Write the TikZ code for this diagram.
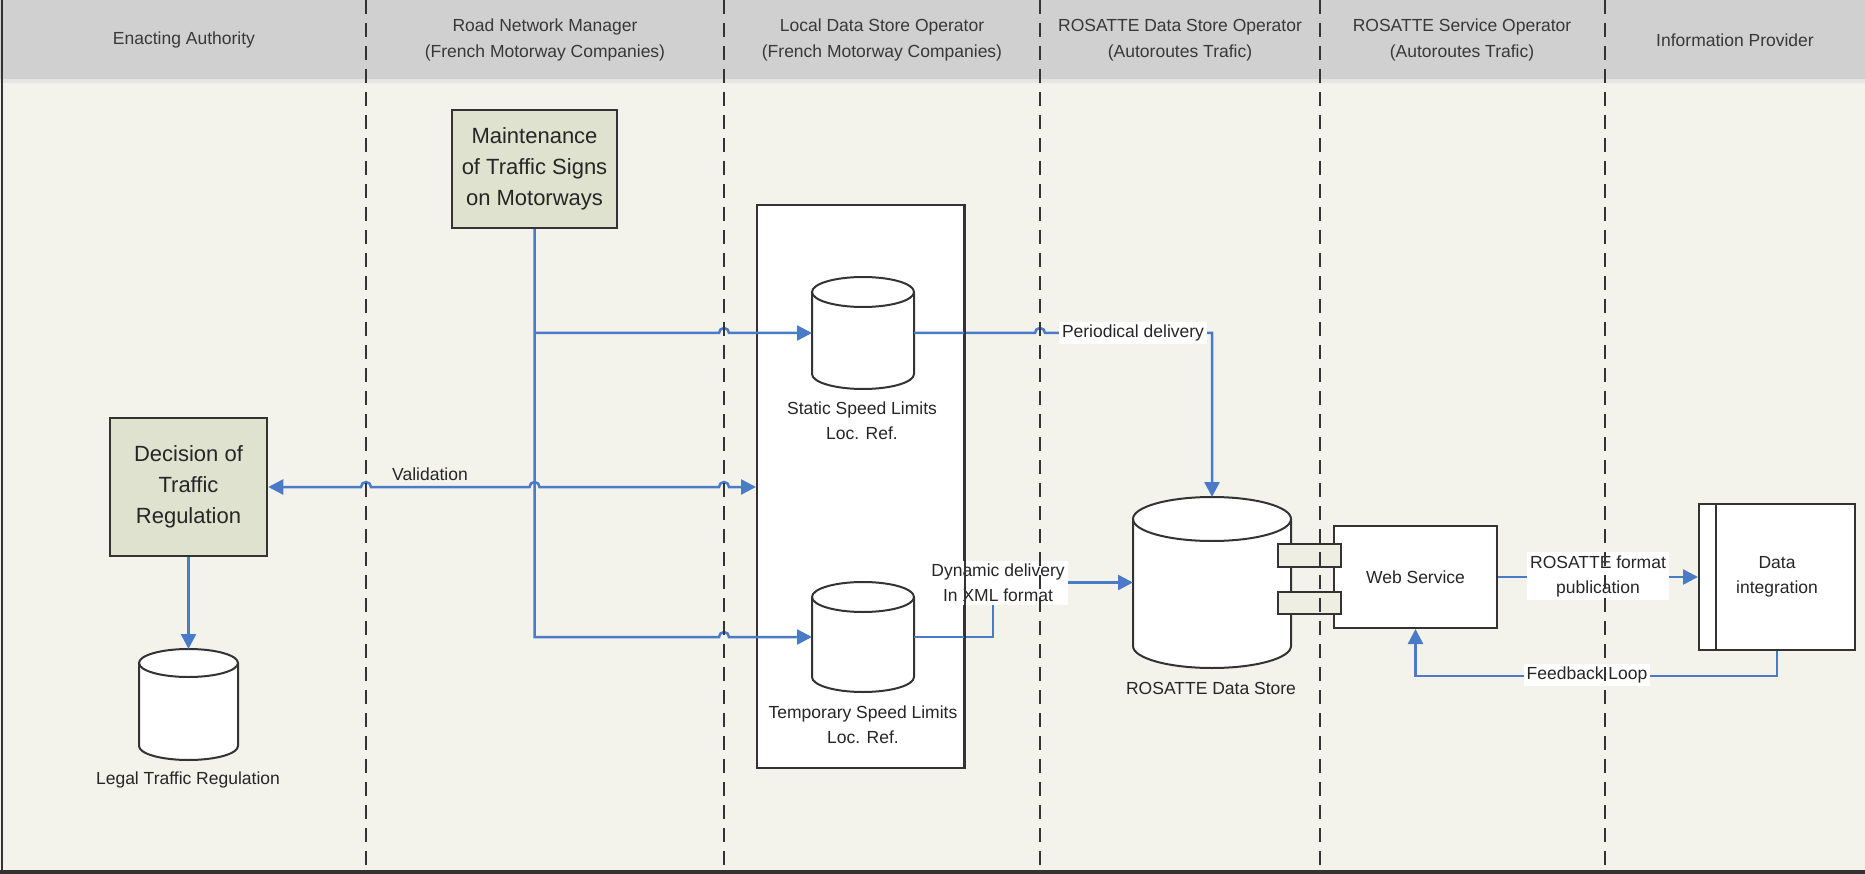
\documentclass[tikz,border=0pt]{standalone}
\usepackage{fontspec}
\setmainfont{Liberation Sans}
\usetikzlibrary{arrows.meta}
\definecolor{hdr}{HTML}{D0D0D0}
\definecolor{bodybg}{HTML}{F3F3EC}
\definecolor{boxgreen}{HTML}{DFE2CF}
\definecolor{flowblue}{HTML}{4A7BC9}
\definecolor{linegray}{HTML}{333333}
\definecolor{portfill}{HTML}{EEEEE2}
\newcommand\drawcyl[6]{% name, cx, top, bottom, rx, ry
  \node[cylbox, minimum width={2*#5}, minimum height={#4-#3}] (#1) at (#2,{-(#3+#4)/2}) {};
  \draw[linegray, line width=2pt, fill=white]
    ({#2-#5},{-(#3)-(#6)}) -- ({#2-#5},{-(#4)+(#6)})
    arc[start angle=180, end angle=360, x radius=#5pt, y radius=#6pt]
    -- ({#2+#5},{-(#3)-(#6)})
    arc[start angle=0, end angle=180, x radius=#5pt, y radius=#6pt] -- cycle;
  \draw[linegray, line width=2pt] ({#2+#5},{-(#3)-(#6)})
    arc[start angle=0, end angle=-180, x radius=#5pt, y radius=#6pt];
}
\begin{document}
\begin{tikzpicture}[x=1pt,y=1pt,
  lane/.style={draw=linegray, line width=2pt, dash pattern=on 14pt off 9pt},
  hdrtext/.style={align=center, text=black!78, font=\fontsize{17.5}{26}\selectfont},
  lbl/.style={align=center, inner sep=2pt, text=black!85, font=\fontsize{17.5}{25}\selectfont},
  wlbl/.style={lbl, fill=white, inner sep=3pt},
  greenbox/.style={draw=linegray, line width=2.5pt, fill=boxgreen, align=center, text=black!85, font=\fontsize{22}{31}\selectfont, inner sep=0pt},
  whitebox/.style={draw=linegray, line width=2pt, fill=white, align=center, inner sep=0pt, text=black!85, font=\fontsize{17.5}{25}\selectfont},
  portbox/.style={draw=linegray, line width=2pt, fill=portfill, inner sep=0pt},
  cylbox/.style={inner sep=0pt, outer sep=0pt},
  tipA/.tip={Triangle[length=15pt,width=15pt]},
  flow/.style={draw=flowblue, line width=2.5pt, -tipA},
  bothflow/.style={draw=flowblue, line width=2.5pt, tipA-tipA},
]
\useasboundingbox (0,0) rectangle (1865,-874);
% background
\fill[bodybg] (0,0) rectangle (1865,-874);
\fill[hdr] (0,0) rectangle (1865,-79);
\fill[hdr!55!white] (0,-79) rectangle (1865,-83);
\draw[linegray, line width=2.5pt] (2,0) -- (2,-872);
\draw[linegray, line width=4pt] (0,-872) -- (1865,-872);

% headers
\node[hdrtext] (h1) at (184,-40) {Enacting Authority};
\node[hdrtext] (h2) at (545,-40) {Road Network Manager\\(French Motorway Companies)};
\node[hdrtext] (h3) at (882,-40) {Local Data Store Operator\\(French Motorway Companies)};
\node[hdrtext] (h4) at (1180,-40) {ROSATTE Data Store Operator\\(Autoroutes Trafic)};
\node[hdrtext] (h5) at (1462,-40) {ROSATTE Service Operator\\(Autoroutes Trafic)};
\node[hdrtext] (h6) at (1735,-40) {Information Provider};

% boxes
\node[whitebox, minimum width=207pt, minimum height=563pt] (big) at (860.5,-486.5) {};
\node[greenbox, minimum width=165pt, minimum height=118pt] (maint) at (534.5,-169) {Maintenance\\of Traffic Signs\\on Motorways};
\node[greenbox, minimum width=157pt, minimum height=138pt] (dec) at (188.5,-487) {Decision of\\Traffic\\Regulation};

% cylinders
\drawcyl{static}{863}{277}{389}{51}{15}
\drawcyl{temp}{863}{582}{692}{51}{15}
\drawcyl{legal}{188.5}{649}{760}{49.5}{14}
\drawcyl{store}{1212}{497}{668}{79}{22}

\node[whitebox, minimum width=163pt, minimum height=102pt] (web) at (1415.5,-577) {Web Service};
\node[whitebox, minimum width=156pt, minimum height=146pt] (dataint) at (1777,-577) {Data\\integration};
\draw[linegray, line width=2pt] ([xshift=18pt]dataint.north west) -- ([xshift=18pt]dataint.south west);

\node[portbox, minimum width=63pt, minimum height=23pt] (port1) at (1309.5,-555.5) {};
\node[portbox, minimum width=63pt, minimum height=22pt] (port2) at (1309.5,-603) {};

% connectors
\coordinate (corner) at (maint.south |- temp.west);
\coordinate (jS) at (maint.south |- static.west);
\draw[flow] (maint.south) -- (corner) -- (719,-637) arc[start angle=180, end angle=0, radius=5pt] -- (temp.west);
\draw[flow] (jS) -- (719,-333) arc[start angle=180, end angle=0, radius=5pt] -- (static.west);
\draw[bothflow] (dec.east) -- (361,-487) arc[start angle=180, end angle=0, radius=5pt]
  -- (529.5,-487) arc[start angle=180, end angle=0, radius=5pt]
  -- (719,-487) arc[start angle=180, end angle=0, radius=5pt] -- (big.west |- dec.east);
\draw[flow] (static.east) -- (1035,-333) arc[start angle=180, end angle=0, radius=5pt] -- (store.north |- static.east) -- (store.north);
\coordinate (dynC) at (993,-582.5);
\draw[flow] (temp.east) -| (dynC) -- (store.west);
\draw[flow] (web.east) -- (dataint.west);
\coordinate (fbC) at (1415.5,-676);
\draw[flow] (dataint.south) |- (fbC) -- (web.south);
\draw[flow] (dec.south) -- (legal.north);

% labels
\node[lbl] (valLbl) at (430,-474) {Validation};
\node[wlbl] (perLbl) at (1133,-333) {Periodical delivery};
\node[wlbl] (dynLbl) at (998,-583) {Dynamic delivery\\In XML format};
\node[wlbl] (pubLbl) at (1598,-576) {ROSATTE format\\publication};
\node[wlbl] (fbLbl) at (1587,-675) {Feedback Loop};
\node[lbl] (stLbl) at (862,-421) {Static Speed Limits\\Loc. Ref.};
\node[lbl] (tmpLbl) at (863,-725) {Temporary Speed Limits\\Loc. Ref.};
\node[lbl] (legLbl) at (188,-780) {Legal Traffic Regulation};
\node[lbl] (stoLbl) at (1211,-688) {ROSATTE Data Store};

\draw[linegray, line width=2pt] (big.north east) -- (big.south east);

% lanes
\foreach \lx in {366,724,1040,1320,1605} {
  \draw[lane] (\lx,0) -- (\lx,-870);
}
\end{tikzpicture}
\end{document}
